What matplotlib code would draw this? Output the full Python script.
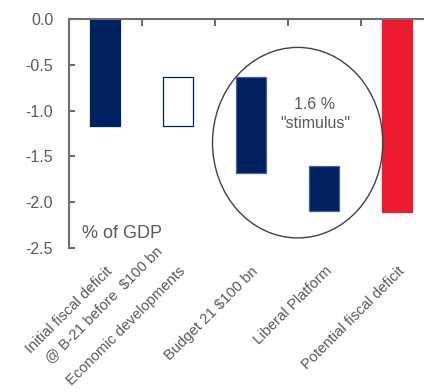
import matplotlib
matplotlib.use("Agg")
import matplotlib.pyplot as plt
from matplotlib.patches import Ellipse
from matplotlib.transforms import offset_copy
from matplotlib import font_manager

# deficit bridge, % of GDP: each step runs from `starts` to `ends`
categories = ["Initial fiscal deficit", "Economic developments", "Budget 21 $100 bn",
              "Liberal Platform", "Potential fiscal deficit"]
first_label_line2 = "@ B-21 before  $100 bn"
starts = [0.0, -0.63, -0.63, -1.60, 0.0]
ends = [-1.17, -1.17, -1.68, -2.10, -2.11]
yticks = [0.0, -0.5, -1.0, -1.5, -2.0, -2.5]
stimulus_text = '1.6 %\n"stimulus"'

NAVY = "#002060"
RED = "#ED1B2F"
GREY = "#595959"
AXIS_GREY = "#6e6e6e"

names = {f.name for f in font_manager.fontManager.ttflist}
base_font = "Liberation Sans" if "Liberation Sans" in names else "DejaVu Sans"
narrow_font = "Liberation Sans Narrow" if "Liberation Sans Narrow" in names else base_font

plt.rcParams["font.family"] = [base_font, "DejaVu Sans"]
plt.rcParams["axes.unicode_minus"] = False

fig = plt.figure(figsize=(4.24, 3.92), dpi=100)
ax = fig.add_axes([0.1616, 0.3673, 0.8620, 0.5842])

face = [NAVY, "white", NAVY, NAVY, RED]
edge = [NAVY, NAVY, "#4a6396", "#4a6396", RED]
x = list(range(len(categories)))
heights = [e - s for s, e in zip(starts, ends)]
ax.bar(x, heights, bottom=starts, width=0.41, color=face, edgecolor=edge,
       linewidth=0.9, zorder=2)

ax.set_xlim(-0.5, 4.5)
ax.set_ylim(-2.5, 0.0)
ax.set_yticks(yticks)
ax.set_yticklabels([f"{v:.1f}" for v in yticks])

for side in ("right", "bottom"):
    ax.spines[side].set_visible(False)
for side in ("left", "top"):
    ax.spines[side].set_color(AXIS_GREY)
    ax.spines[side].set_linewidth(1.5)

ax.tick_params(axis="y", direction="in", length=4, width=1.5, color=AXIS_GREY,
               labelcolor=GREY, labelsize=11.5, pad=11)
# category separators hang from the zero line
ax.set_xticks([0.5, 1.5, 2.5, 3.5], minor=True)
ax.set_xticks([])
ax.tick_params(axis="x", which="minor", top=True, bottom=False, direction="in",
               length=5, width=1.5, color=AXIS_GREY)

# rotated category labels below the plot
LABEL_SIZE = 10.6
trans = ax.get_xaxis_transform()
for i, name in enumerate(categories):
    ax.text(i + 0.0, -0.07, name, transform=trans, rotation=45,
            rotation_mode="anchor", ha="right", va="top", fontsize=LABEL_SIZE,
            color=GREY, clip_on=False)
line2_trans = offset_copy(trans, fig=fig, x=36, y=14.4, units="points")
ax.text(0.0, -0.07, first_label_line2, transform=line2_trans, rotation=45,
        rotation_mode="anchor", ha="right", va="top", fontsize=LABEL_SIZE,
        color=GREY, clip_on=False)

ax.add_patch(Ellipse((2.635, -1.35), 2.33, 2.08, fill=False, edgecolor="#404040",
                     linewidth=1.0, zorder=3))
ax.text(2.87, -1.04, stimulus_text, ha="center", va="center", fontsize=11.5,
        color=GREY, linespacing=1.3, family=[narrow_font, "DejaVu Sans"], zorder=4)

ax.text(-0.31, -2.39, "% of GDP", ha="left", va="baseline", fontsize=13, color=GREY)

fig.savefig("out.png", dpi=100)
